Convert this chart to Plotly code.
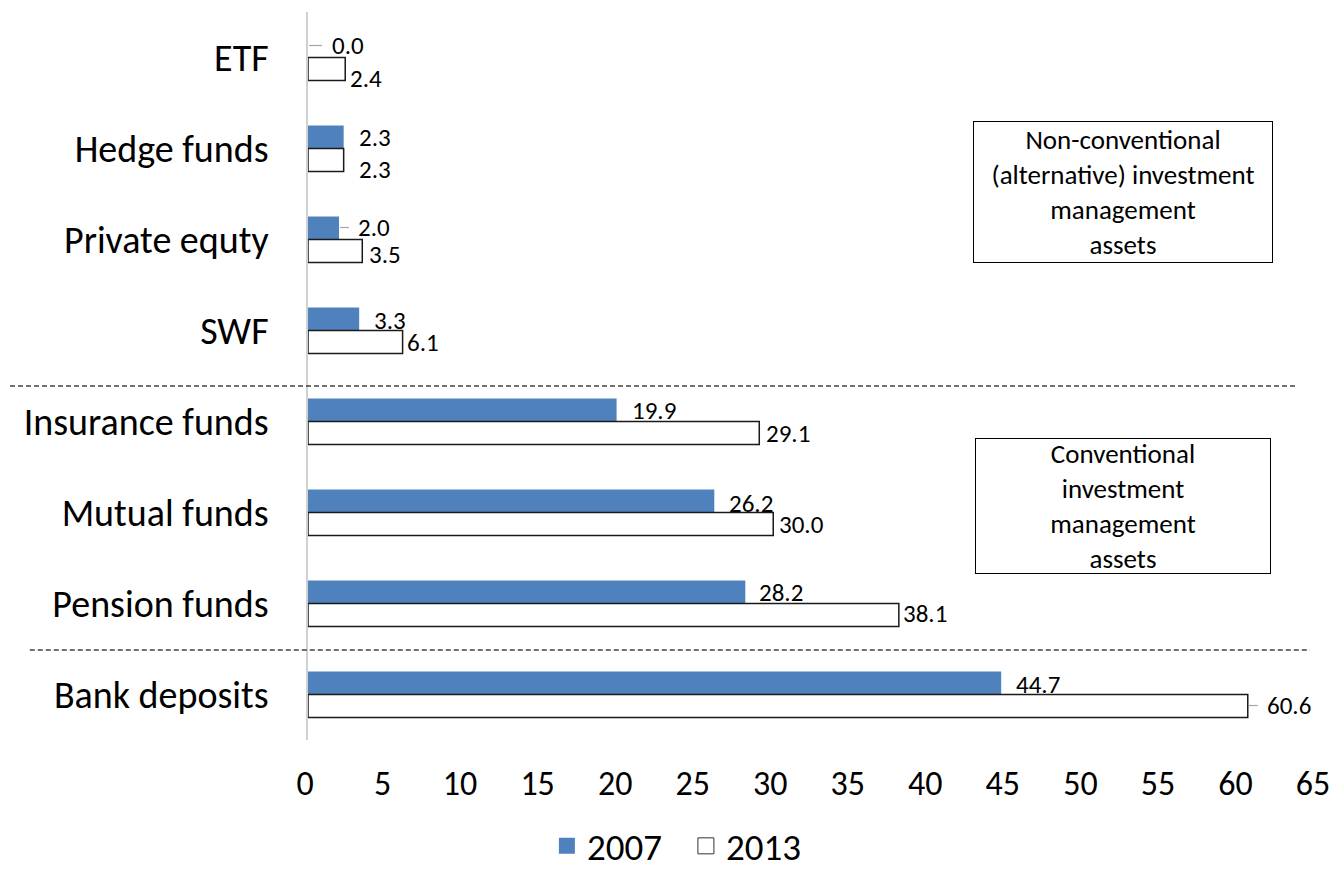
import plotly.graph_objects as go

# ---- data ----
categories = ["ETF", "Hedge funds", "Private equty", "SWF",
              "Insurance funds", "Mutual funds", "Pension funds", "Bank deposits"]
values_2007 = [0.0, 2.3, 2.0, 3.3, 19.9, 26.2, 28.2, 44.7]
values_2013 = [2.4, 2.3, 3.5, 6.1, 29.1, 30.0, 38.1, 60.6]
series_names = ["2007", "2013"]
x_ticks = list(range(0, 70, 5))

# ---- label placement (pixels) ----
dx_2007 = [22, 13, 17, 13, 13, 13, 12, 13]
dy_2007 = [12, 11, 12, 10, 11, 9, 11, 10]
dx_2013 = [3, 13, 5, 2, 5, 4, 2, 17]
dy_2013 = [-21, -21, -15, -12, -12, -12, -10, -11]
leaders = [("2007", 0, 14), ("2007", 2, 10), ("2013", 7, 10)]

FONT = "Calibri, Carlito, Lato, sans-serif"
BLUE = "#4F81BD"

fig = go.Figure()
fig.add_trace(go.Bar(y=categories, x=values_2007, orientation="h", name=series_names[0],
                     marker=dict(color=BLUE, line=dict(width=0)), showlegend=False))
fig.add_trace(go.Bar(y=categories, x=values_2013, orientation="h", name=series_names[1],
                     marker=dict(color="white", line=dict(color="#1a1a1a", width=1.5)),
                     showlegend=False))
# legend entries
fig.add_trace(go.Scatter(x=[None], y=[None], mode="markers", name=series_names[0],
                         marker=dict(symbol="square", size=18, color=BLUE, line=dict(width=0))))
fig.add_trace(go.Scatter(x=[None], y=[None], mode="markers", name=series_names[1],
                         marker=dict(symbol="square", size=18, color="white",
                                     line=dict(color="#333333", width=1))))

annotations = []
for i, c in enumerate(categories):
    annotations.append(dict(x=values_2007[i], y=c, xref="x", yref="y", text=f"{values_2007[i]:.1f}",
                            showarrow=False, xanchor="left", yanchor="middle",
                            xshift=dx_2007[i], yshift=dy_2007[i],
                            font=dict(family=FONT, size=25, color="black")))
    annotations.append(dict(x=values_2013[i], y=c, xref="x", yref="y", text=f"{values_2013[i]:.1f}",
                            showarrow=False, xanchor="left", yanchor="middle",
                            xshift=dx_2013[i], yshift=dy_2013[i],
                            font=dict(family=FONT, size=25, color="black")))

# text boxes
box_font = dict(family=FONT, size=27, color="black")
annotations.append(dict(xref="paper", yref="paper", x=0.809, y=0.7534, xanchor="center", yanchor="middle",
                        text="Non-conventional<br>(alternative) investment<br>management<br>assets",
                        showarrow=False, width=298, height=140, bordercolor="black", borderwidth=1,
                        borderpad=0, bgcolor="white", font=box_font, align="center"))
annotations.append(dict(xref="paper", yref="paper", x=0.8085, y=0.322, xanchor="center", yanchor="middle",
                        text="Conventional<br>investment<br>management<br>assets",
                        showarrow=False, width=294, height=134, bordercolor="black", borderwidth=1,
                        borderpad=0, bgcolor="white", font=box_font, align="center"))

shapes = [
    dict(type="line", xref="paper", yref="y", x0=-0.2956, x1=0.982, y0=3.61, y1=3.61,
         line=dict(color="#404040", width=1.5, dash="5px,3px")),
    dict(type="line", xref="paper", yref="y", x0=-0.276, x1=0.994, y0=6.51, y1=6.51,
         line=dict(color="#404040", width=1.5, dash="5px,3px")),
]
for series, idx, length in leaders:
    val = values_2007[idx] if series == "2007" else values_2013[idx]
    dy = dy_2007[idx] if series == "2007" else dy_2013[idx]
    shapes.append(dict(type="line", xref="x", yref="y", xsizemode="pixel", ysizemode="pixel",
                       xanchor=val, yanchor=idx, x0=1, x1=length, y0=dy, y1=dy,
                       line=dict(color="#A6A6A6", width=1.2)))

fig.update_layout(
    width=1338, height=870,
    margin=dict(l=308, r=22, t=12, b=130, autoexpand=False),
    paper_bgcolor="white", plot_bgcolor="white",
    barmode="group", bargap=0.495, bargroupgap=0,
    font=dict(family=FONT, color="black"),
    xaxis=dict(range=[0, 65], tickvals=x_ticks, ticktext=[str(t) for t in x_ticks],
               showgrid=False, zeroline=False, showline=False, ticks="",
               tickfont=dict(family=FONT, size=34, color="black"),
               ticklabelshift=-3, ticklabelstandoff=20, automargin=False),
    yaxis=dict(autorange="reversed", showgrid=False, zeroline=False, showline=True,
               linecolor="#D0D0D0", linewidth=1.5, ticks="",
               tickfont=dict(family=FONT, size=38, color="black"),
               ticklabelstandoff=30, automargin=False),
    legend=dict(orientation="h", x=0.237, y=-0.146, xanchor="left", yanchor="middle",
                font=dict(family=FONT, size=37, color="black"), itemwidth=30,
                entrywidth=94, entrywidthmode="pixels", itemclick=False),
    annotations=annotations,
    shapes=shapes,
)

fig.write_html("out.html")
